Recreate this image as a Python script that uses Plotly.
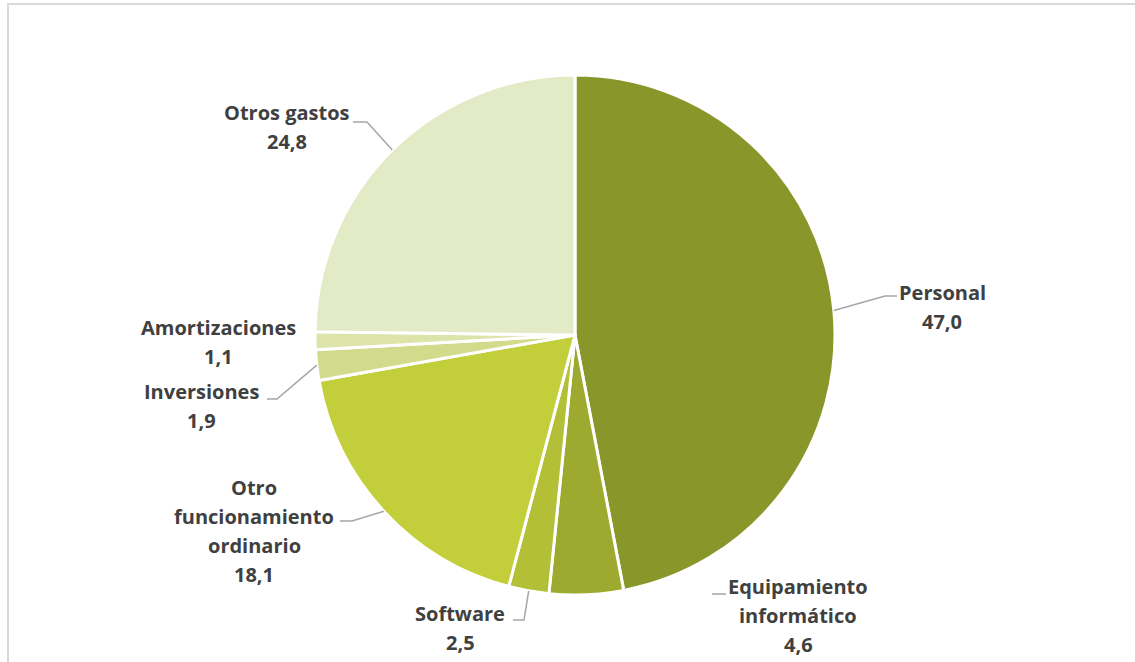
import math
import plotly.graph_objects as go

categories = ["Personal", "Equipamiento informático", "Software",
              "Otro funcionamiento ordinario", "Inversiones",
              "Amortizaciones", "Otros gastos"]
values = [47.0, 4.6, 2.5, 18.1, 1.9, 1.1, 24.8]
value_labels = ["47,0", "4,6", "2,5", "18,1", "1,9", "1,1", "24,8"]
label_lines = [["Personal"], ["Equipamiento", "informático"], ["Software"],
               ["Otro", "funcionamiento", "ordinario"], ["Inversiones"],
               ["Amortizaciones"], ["Otros gastos"]]
colors = ["#89962A", "#9EAA2F", "#B3BF36", "#C2CF3B", "#D2DB8B", "#DCE4AA", "#E3EAC6"]

W, H = 1135, 662
CX, CY, R = 575, 335, 260

# label layout: (center x, first-line y) in pixels; leader path points; whether leader starts at slice
label_pos = [(942, 292), (798, 586), (460, 613), (254, 487), (201, 391), (218, 327), (287, 112)]
leaders = [[(885, 296), (897, 296)],
           [(712, 594), (726, 594)],
           [(524, 620), (513, 620)],
           [(352, 521), (340, 521)],
           [(277, 399), (267, 399)],
           None,
           [(367, 122), (353, 122)]]
leader_from_slice = [True, False, True, True, True, False, True]
LINE_H = 29

def px(x):
    return x / W

def py(y):
    return 1 - y / H

fig = go.Figure(go.Pie(
    labels=categories, values=values, sort=False, direction="clockwise",
    rotation=0, marker=dict(colors=colors, line=dict(color="white", width=3)),
    textinfo="none", hoverinfo="label+value", showlegend=False,
    domain=dict(x=[px(CX - R), px(CX + R)], y=[py(CY + R), py(CY - R)]),
))

annotations = []
shapes = []
total = sum(values)
cum = 0.0
for i, v in enumerate(values):
    mid = (cum + v / 2) / total * 2 * math.pi
    cum += v
    sx = CX + R * math.sin(mid)
    sy = CY - R * math.cos(mid)
    lx, ly = label_pos[i]
    lines = label_lines[i] + [value_labels[i]]
    for j, t in enumerate(lines):
        annotations.append(dict(
            x=px(lx), y=py(ly + j * LINE_H), xref="paper", yref="paper",
            text="<b>" + t + "</b>", showarrow=False, xanchor="center", yanchor="middle",
            font=dict(family="Open Sans", size=20, color="#404040")))
    if leaders[i] is not None:
        pts = ([(sx, sy)] if leader_from_slice[i] else []) + leaders[i]
        path = "M " + " L ".join(f"{px(x)},{py(y)}" for x, y in pts)
        shapes.append(dict(type="path", path=path, xref="paper", yref="paper",
                           line=dict(color="#A6A6A6", width=1.5)))

shapes.append(dict(type="rect", xref="paper", yref="paper",
                   x0=px(8), x1=1.01, y0=-0.01, y1=py(4),
                   line=dict(color="#D9D9D9", width=2)))

fig.update_layout(width=W, height=H, margin=dict(l=0, r=0, t=0, b=0),
                  paper_bgcolor="white", plot_bgcolor="white",
                  annotations=annotations, shapes=shapes)
fig.write_html("out.html", config={"displayModeBar": False},
               post_script="document.body.style.margin='0';document.body.style.overflow='hidden';")
